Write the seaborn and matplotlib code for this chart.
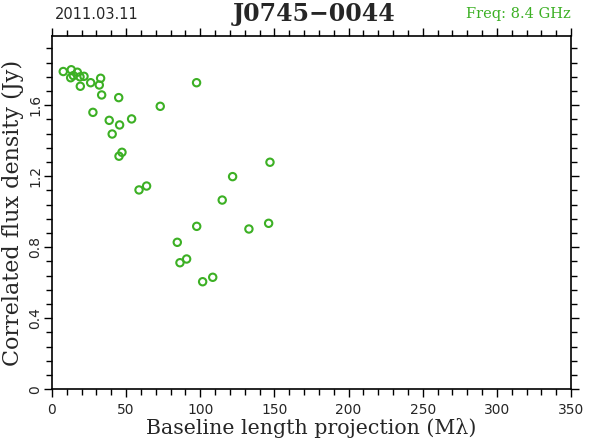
import seaborn as sns
import matplotlib.pyplot as plt
from matplotlib.ticker import MultipleLocator
import pandas as pd

# values
baseline = [7.6, 13.0, 17.1, 12.6, 14.4, 18.9, 21.6, 32.8, 26.1, 31.9,
            19.1, 33.5, 45.0, 73.0, 27.6, 38.6, 53.7, 45.6, 40.6, 47.2,
            45.2, 63.8, 58.7, 97.5, 147.0, 121.8, 114.8, 97.6, 132.8, 146.1,
            84.5, 101.6, 108.4, 86.3, 90.8]
flux = [1.790, 1.800, 1.786, 1.755, 1.767, 1.760, 1.763, 1.752, 1.727, 1.714,
        1.707, 1.658, 1.643, 1.594, 1.560, 1.515, 1.523, 1.489, 1.438, 1.335,
        1.313, 1.145, 1.123, 1.727, 1.279, 1.198, 1.066, 0.918, 0.903, 0.935,
        0.828, 0.606, 0.631, 0.713, 0.734]

source = 'J0745\u22120044'
date = '2011.03.11'
freq = 'Freq: 8.4 GHz'
green = '#3cb024'

df = pd.DataFrame({'baseline': baseline, 'flux': flux})

sns.set_style('ticks')
fig = plt.figure(figsize=(5.9, 4.43), dpi=100)
ax = fig.add_axes([0.0881, 0.1212, 0.8797, 0.7975])

sns.scatterplot(data=df, x='baseline', y='flux', ax=ax, marker='o', s=28,
                facecolors='none', edgecolor=green, linewidth=1.5)

ax.set_xlim(0, 350)
ax.set_ylim(0, 1.99)
ax.xaxis.set_major_locator(MultipleLocator(50))
ax.xaxis.set_minor_locator(MultipleLocator(10))
ax.yaxis.set_major_locator(MultipleLocator(0.4))
ax.yaxis.set_minor_locator(MultipleLocator(0.08))
ax.tick_params(which='both', direction='out', top=True, right=True,
               color='black', width=1)
ax.tick_params(which='major', length=6, labelsize=10)
ax.tick_params(which='minor', length=4)
ax.tick_params(axis='y', which='major', pad=1)
ax.set_xticklabels([f'{int(v)}' for v in ax.get_xticks()])
ax.set_yticklabels(['0' if v == 0 else f'{v:.1f}' for v in ax.get_yticks()],
                   rotation=90, va='center')
for sp in ax.spines.values():
    sp.set_linewidth(1.2)
    sp.set_color('black')

ax.set_xlabel('Baseline length projection (M\u03bb)', family='DejaVu Serif',
              fontsize=14.8, labelpad=1)
ax.set_ylabel('Correlated flux density (Jy)', family='DejaVu Serif',
              fontsize=16, labelpad=3)

fig.text(0.093, 0.968, date, fontsize=10.5, ha='left', va='center')
fig.text(0.532, 0.968, source, fontsize=17, fontweight='bold', ha='center',
         va='center', family='DejaVu Serif')
fig.text(0.968, 0.968, freq, fontsize=10.5, ha='right', va='center',
         color=green, family='DejaVu Serif')

fig.savefig('out.png', dpi=100)
